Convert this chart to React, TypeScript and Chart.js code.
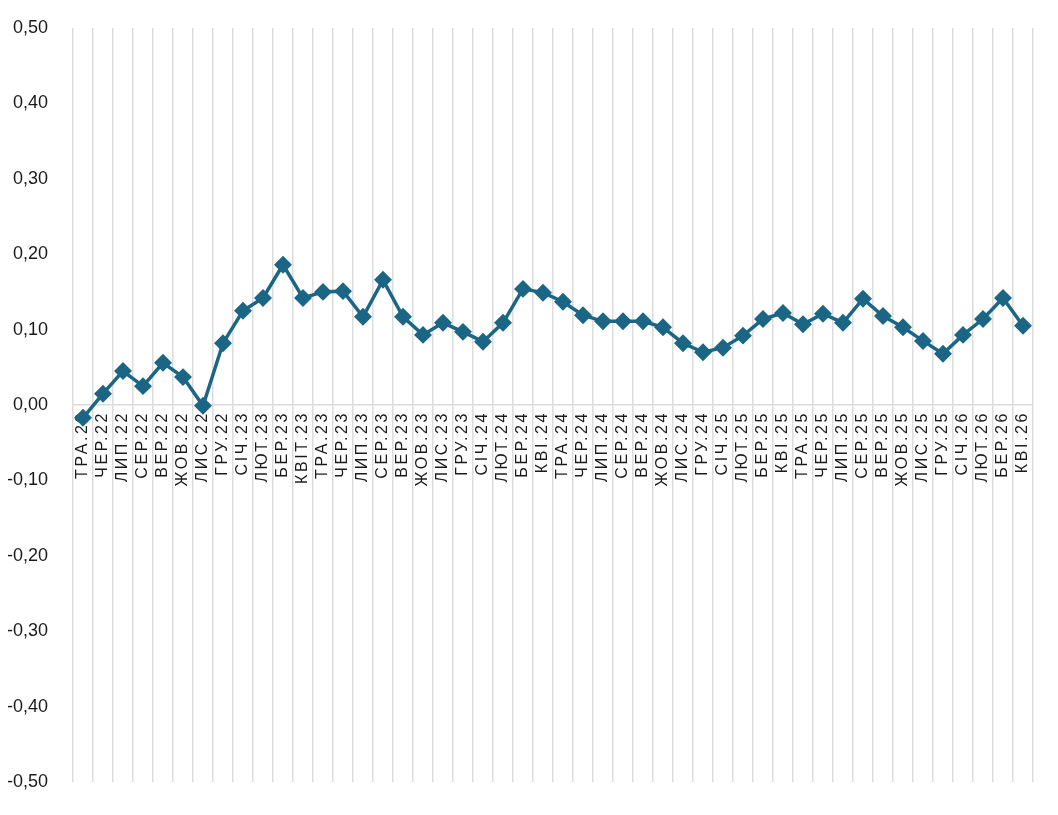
import { useEffect, useRef } from 'react';
import { Chart, registerables } from 'chart.js';

Chart.register(...registerables);

const months = [
  'ТРА.22', 'ЧЕР.22', 'ЛИП.22', 'СЕР.22', 'ВЕР.22', 'ЖОВ.22', 'ЛИС.22', 'ГРУ.22',
  'СІЧ.23', 'ЛЮТ.23', 'БЕР.23', 'КВІТ.23', 'ТРА.23', 'ЧЕР.23', 'ЛИП.23', 'СЕР.23',
  'ВЕР.23', 'ЖОВ.23', 'ЛИС.23', 'ГРУ.23', 'СІЧ.24', 'ЛЮТ.24', 'БЕР.24', 'КВІ.24',
  'ТРА.24', 'ЧЕР.24', 'ЛИП.24', 'СЕР.24', 'ВЕР.24', 'ЖОВ.24', 'ЛИС.24', 'ГРУ.24',
  'СІЧ.25', 'ЛЮТ.25', 'БЕР.25', 'КВІ.25', 'ТРА.25', 'ЧЕР.25', 'ЛИП.25', 'СЕР.25',
  'ВЕР.25', 'ЖОВ.25', 'ЛИС.25', 'ГРУ.25', 'СІЧ.26', 'ЛЮТ.26', 'БЕР.26', 'КВІ.26',
];

const values = [
  -0.017, 0.015, 0.045, 0.025, 0.056, 0.037, -0.001, 0.082,
  0.125, 0.142, 0.186, 0.142, 0.150, 0.151, 0.117, 0.166,
  0.117, 0.093, 0.109, 0.097, 0.084, 0.109, 0.154, 0.149,
  0.137, 0.119, 0.111, 0.111, 0.111, 0.103, 0.082, 0.070,
  0.076, 0.092, 0.114, 0.122, 0.107, 0.121, 0.109, 0.141,
  0.118, 0.103, 0.085, 0.068, 0.093, 0.114, 0.142, 0.105,
];

const yMin = -0.5;
const yMax = 0.5;
const yStep = 0.1;

const lineColor = '#1b6585';
const gridColor = '#dcdcdc';

// spread out the month labels a little, like the original
const spacedLabels = {
  id: 'spacedLabels',
  afterLayout(chart: any) {
    const scale = chart.scales.x;
    if (!scale || scale._spaced) return;
    const orig = scale.drawLabels.bind(scale);
    scale.drawLabels = (area: any) => {
      const ctx = scale.ctx;
      ctx.save();
      ctx.letterSpacing = '2.6px';
      orig(area);
      ctx.restore();
    };
    scale._spaced = true;
  },
};

export default function App() {
  const canvasRef = useRef<HTMLCanvasElement>(null);
  const chartRef = useRef<Chart | null>(null);

  useEffect(() => {
    if (!canvasRef.current) return;
    if (chartRef.current) chartRef.current.destroy();

    chartRef.current = new Chart(canvasRef.current, {
      type: 'line',
      data: {
        labels: months,
        datasets: [{
          data: values,
          borderColor: lineColor,
          backgroundColor: lineColor,
          borderWidth: 3.5,
          pointStyle: 'rectRot',
          pointRadius: 6.5,
          pointHoverRadius: 6.5,
          tension: 0,
        }],
      },
      options: {
        responsive: true,
        maintainAspectRatio: false,
        animation: false,
        layout: { padding: { top: 0, right: 17, bottom: 0, left: 0 } },
        plugins: {
          legend: { display: false },
          tooltip: { enabled: false },
        },
        scales: {
          x: {
            position: { y: 0 },
            offset: true,
            grid: { color: gridColor, lineWidth: 1.5, offset: true, drawTicks: false },
            border: { display: true, color: gridColor, width: 1.5 },
            ticks: {
              autoSkip: false,
              maxRotation: 90,
              minRotation: 90,
              padding: 6,
              color: '#1a1a1a',
              font: { family: 'Liberation Sans, Arial, sans-serif', size: 16 },
            },
          },
          y: {
            min: yMin,
            max: yMax,
            grid: { display: false },
            border: { display: false },
            afterFit(scale: any) {
              scale.width = 65;
              scale.paddingTop = 20;
              scale.paddingBottom = 25;
            },
            ticks: {
              stepSize: yStep,
              padding: 17,
              color: '#1a1a1a',
              font: { family: 'Liberation Sans, Arial, sans-serif', size: 18 },
              callback: (v: any) => Number(v).toFixed(2).replace('.', ','),
            },
          },
        },
      },
      plugins: [spacedLabels],
    });

    return () => {
      if (chartRef.current) {
        chartRef.current.destroy();
        chartRef.current = null;
      }
    };
  }, []);

  return (
    <div style={{ position: 'relative', width: 1042, height: 799 }}>
      <canvas ref={canvasRef}></canvas>
    </div>
  );
}
